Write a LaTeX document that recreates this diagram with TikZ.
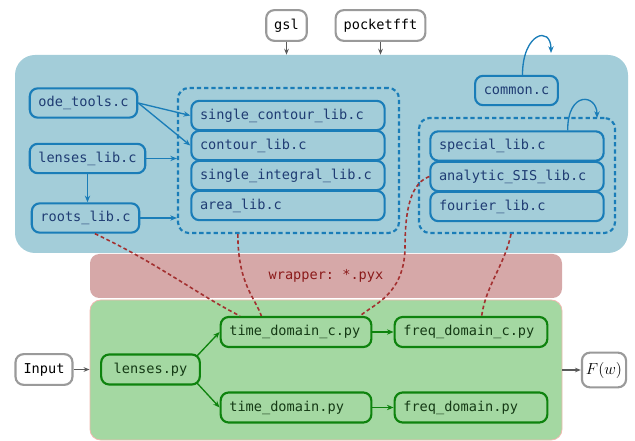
\documentclass[tikz,border=0pt]{standalone}
\usepackage{fontspec}
\setmonofont{DejaVu Sans Mono}
\usetikzlibrary{arrows.meta}
\definecolor{bgblue}{HTML}{A3CDD9}
\definecolor{stblue}{HTML}{1A7DB8}
\definecolor{txblue}{HTML}{1F3C73}
\definecolor{bgred}{HTML}{D6A8A8}
\definecolor{txred}{HTML}{8B1A1A}
\definecolor{dred}{HTML}{A33030}
\definecolor{bggreen}{HTML}{A4D8A2}
\definecolor{stgreen}{HTML}{0E830E}
\definecolor{txgreen}{HTML}{153A15}
\definecolor{pinkedge}{HTML}{F0B8B0}
\definecolor{gryst}{HTML}{9A9A9A}
\definecolor{gryar}{HTML}{5A5A5A}
\tikzset{
  mono/.style={font=\ttfamily\fontsize{10.2}{12}\selectfont},
  bnode/.style={mono, draw=stblue, fill=bgblue, text=txblue, line width=1.6pt, rounded corners=6pt, minimum height=22pt, inner xsep=6.5pt},
  libnode/.style={bnode, text width=#1, align=left},
  gnode/.style={mono, draw=stgreen, fill=bggreen, text=txgreen, line width=1.6pt, rounded corners=6pt, minimum height=22.5pt, inner xsep=6.5pt},
  glib/.style={gnode, text width=#1, align=left},
  xnode/.style={mono, draw=gryst, fill=white, text=black, line width=1.6pt, rounded corners=6pt, minimum height=23pt, inner xsep=6pt},
  grp/.style={draw=stblue, line width=1.6pt, dash pattern=on 3.2pt off 2.2pt, rounded corners=8pt},
  barr/.style={draw=stblue, line width=1pt, -{Stealth[length=5pt,width=4pt]}},
  garr/.style={draw=stgreen, line width=1pt, -{Stealth[length=5pt,width=4pt]}},
  xarr/.style={draw=gryar, line width=1pt, -{Stealth[length=4.5pt,width=3.5pt]}},
  rlink/.style={draw=dred, line width=1.2pt, dash pattern=on 2.8pt off 2pt},
}
\begin{document}
\begin{tikzpicture}[x=0.75pt,y=-0.75pt]
\useasboundingbox (0,0) rectangle (635,441);
% backgrounds
\node[fill=bgblue, rounded corners=15pt, minimum width=459.75pt, minimum height=148.5pt, inner sep=0pt] (core) at (321.5,154) {};
\node[fill=bgred, rounded corners=7pt, minimum width=354pt, minimum height=33pt, inner sep=0pt, mono, text=txred] (wrap) at (326,276) {wrapper: *.pyx};
\node[fill=bggreen, draw=pinkedge, line width=0.6pt, rounded corners=8pt, minimum width=354pt, minimum height=105pt, inner sep=0pt] (py) at (326,370) {};
% external
\node[xnode] (gsl) at (286.5,25.5) {gsl};
\node[xnode] (pfft) at (380.5,25.5) {pocketfft};
\node[xnode] (input) at (44,369.5) {Input};
\node[xnode, font=\fontsize{12}{14}\selectfont, minimum height=26pt, inner xsep=3pt] (Fw) at (604,370) {$F(w)$};
% groups
\node[grp, minimum width=165.75pt, minimum height=108.75pt, inner sep=0pt] (g1) at (288.5,160.5) {};
\node[grp, minimum width=147pt, minimum height=86.25pt, inner sep=0pt] (g2) at (517,175.5) {};
% left column
\node[bnode] (ode) at (83.5,103) {ode\_tools.c};
\node[bnode] (lenses) at (87.5,158.5) {lenses\_lib.c};
\node[bnode] (roots) at (85.5,218) {roots\_lib.c};
% group1 libs
\node[libnode=132pt] (sc) at (288,115.5) {single\_contour\_lib.c};
\node[libnode=132pt] (co) at (288,145.5) {contour\_lib.c};
\node[libnode=132pt] (si) at (288,175.5) {single\_integral\_lib.c};
\node[libnode=132pt] (ar) at (288,205.5) {area\_lib.c};
% group2 libs
\node[bnode] (common) at (516.5,90.5) {common.c};
\node[libnode=117pt] (sp) at (517,146) {special\_lib.c};
\node[libnode=117pt] (an) at (517,176.5) {analytic\_SIS\_lib.c};
\node[libnode=117pt] (fo) at (517,206.5) {fourier\_lib.c};
% python
\node[gnode, minimum width=74pt] (lpy) at (150.5,369.5) {lenses.py};
\node[glib=100pt] (tdc) at (296,332) {time\_domain\_c.py};
\node[glib=101.5pt] (fdc) at (471,332) {freq\_domain\_c.py};
\node[glib=100pt] (td) at (296,407.5) {time\_domain.py};
\node[glib=101.5pt] (fd) at (471,407.5) {freq\_domain.py};
% coordinates for loops
\coordinate (cl1) at (551,53);
\coordinate (cl2) at (597,118);
% external arrows
\draw[xarr] (gsl.south) -- (gsl.south |- core.north);
\draw[xarr] (pfft.south) -- (pfft.south |- core.north);
\draw[xarr] (input.east) -- (input.east -| py.west);
\draw[xarr] (py.east |- Fw.west) -- (Fw.west);
% blue arrows
\draw[barr] (ode.east) -- (sc.west);
\draw[barr] (ode.east) -- (co.west);
\draw[barr] (lenses.east) -- (lenses.east -| g1.west);
\draw[barr] (roots.east) -- (roots.east -| g1.west);
\draw[barr] (lenses.south) -- (lenses.south |- roots.north);
\draw[barr] ([xshift=4.5pt]common.north) .. controls +(0,-42) and +(0,-28) .. (cl1);
\draw[barr] ([xshift=38pt]sp.north) .. controls +(0,-40) and +(0,-24) .. (cl2);
% green arrows
\draw[garr] ([xshift=-3pt,yshift=-2pt]lpy.north east) -- (tdc.west);
\draw[garr] ([xshift=-3pt,yshift=2pt]lpy.south east) -- (td.west);
\draw[garr] (tdc.east) -- (fdc.west);
\draw[garr] (td.east) -- (fd.west);
% red dashed links
\draw[rlink] ([xshift=-34pt]roots.south east) .. controls +(60,28) and +(-40,-20) .. ([xshift=-42pt]tdc.north);
\draw[rlink] ([xshift=-38pt]g1.south) .. controls +(0,50) and +(-6,-18) .. ([xshift=-26pt]tdc.north);
\draw[rlink] (an.west) .. controls +(-22,8) and +(0,-30) .. (405,250) .. controls +(-2,45) and +(14,-12) .. ([xshift=48pt]tdc.north);
\draw[rlink] ([xshift=-4.5pt]g2.south) .. controls +(-6,30) and +(4,-30) .. ([xshift=8pt]fdc.north);
\end{tikzpicture}
\end{document}
